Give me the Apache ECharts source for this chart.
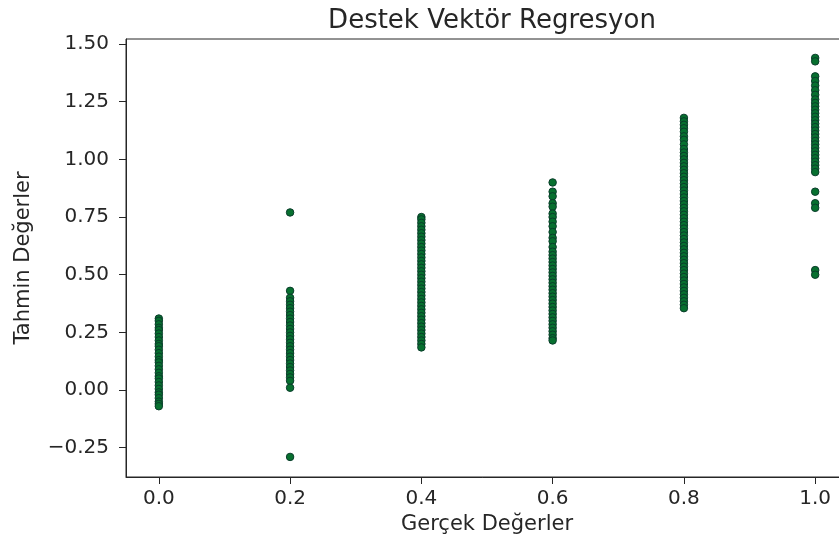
<!DOCTYPE html>
<html>
<head>
<meta charset="utf-8">
<script src="https://cdn.jsdelivr.net/npm/echarts@6/dist/echarts.min.js"></script>
<style>
  html, body { margin: 0; padding: 0; background: #fff; }
  #chart { width: 839px; height: 546px; }
</style>
</head>
<body>
<div id="chart"></div>
<script>
// Target classes on the x axis
const actualValues = [0.0, 0.2, 0.4, 0.6, 0.8, 1.0];

// Predicted values for each actual class
const predAt00 = [0.31, 0.30, 0.285, 0.27, 0.26, 0.245, 0.23, 0.215, 0.20, 0.19, 0.175, 0.16, 0.145, 0.13, 0.12,
  0.105, 0.09, 0.075, 0.06, 0.05, 0.035, 0.02, 0.005, -0.01, -0.02, -0.035, -0.05, -0.06, -0.07];
const predAt02 = [0.77, 0.43, 0.40, 0.385, 0.37, 0.355, 0.34, 0.325, 0.31, 0.295, 0.28, 0.265, 0.25, 0.235, 0.22,
  0.205, 0.19, 0.175, 0.16, 0.145, 0.13, 0.115, 0.10, 0.085, 0.07, 0.055, 0.04, 0.01, -0.29];
const predAt04 = [0.75, 0.74, 0.725, 0.71, 0.695, 0.68, 0.665, 0.65, 0.635, 0.62, 0.605, 0.59, 0.575, 0.56, 0.545,
  0.53, 0.515, 0.50, 0.485, 0.47, 0.455, 0.44, 0.425, 0.41, 0.395, 0.38, 0.365, 0.35, 0.335, 0.32, 0.305, 0.29,
  0.275, 0.26, 0.245, 0.23, 0.215, 0.20, 0.185];
const predAt06 = [0.90, 0.86, 0.84, 0.81, 0.795, 0.765, 0.75, 0.73, 0.71, 0.685, 0.66, 0.645, 0.62, 0.60, 0.585,
  0.57, 0.555, 0.54, 0.525, 0.51, 0.495, 0.48, 0.465, 0.45, 0.435, 0.42, 0.405, 0.39, 0.375, 0.36, 0.345, 0.33,
  0.315, 0.30, 0.285, 0.27, 0.255, 0.24, 0.225, 0.215];
const predAt08 = [1.18, 1.165, 1.15, 1.135, 1.12, 1.10, 1.085, 1.065, 1.045, 1.03, 1.015, 1.0, 0.985, 0.97, 0.955,
  0.94, 0.925, 0.91, 0.895, 0.88, 0.865, 0.85, 0.835, 0.82, 0.805, 0.79, 0.775, 0.76, 0.745, 0.73, 0.715, 0.70,
  0.685, 0.67, 0.655, 0.64, 0.625, 0.61, 0.595, 0.58, 0.565, 0.55, 0.535, 0.52, 0.505, 0.49, 0.475, 0.46, 0.445,
  0.43, 0.415, 0.40, 0.385, 0.37, 0.355];
const predAt10 = [1.44, 1.425, 1.36, 1.34, 1.32, 1.30, 1.28, 1.26, 1.245, 1.23, 1.215, 1.20, 1.185, 1.17, 1.155,
  1.14, 1.125, 1.11, 1.095, 1.08, 1.065, 1.05, 1.035, 1.02, 1.005, 0.99, 0.975, 0.96, 0.945, 0.86, 0.81, 0.79,
  0.52, 0.50];

const predictedByClass = [predAt00, predAt02, predAt04, predAt06, predAt08, predAt10];

// Axis tick positions
const xTicks = [0.0, 0.2, 0.4, 0.6, 0.8, 1.0];
const yTicks = [-0.25, 0.0, 0.25, 0.50, 0.75, 1.00, 1.25, 1.50];

const points = [];
actualValues.forEach((x, i) => {
  predictedByClass[i].forEach(y => points.push([x, y]));
});

const fontFamily = 'DejaVu Sans';
const ink = '#262626';
const minus = s => s.replace('-', '\u2212');

const chart = echarts.init(document.getElementById('chart'), null, { renderer: 'canvas' });
chart.setOption({
  animation: false,
  backgroundColor: '#ffffff',
  title: {
    text: 'Destek Vektör Regresyon',
    left: 487,
    top: 3,
    textAlign: 'center',
    textStyle: { fontFamily, fontSize: 26, fontWeight: 'normal', color: ink }
  },
  // the frame runs a little past the right edge of the page
  grid: {
    left: 126, width: 722, top: 39, bottom: 69,
    containLabel: false,
    outerBoundsMode: 'none',
    show: true, borderColor: ink, borderWidth: 1, backgroundColor: 'transparent'
  },
  xAxis: {
    type: 'value',
    min: -0.05,
    max: 1.05,
    name: 'Gerçek Değerler',
    nameLocation: 'middle',
    nameGap: 37,
    nameTextStyle: { fontFamily, fontSize: 21, color: ink },
    axisLine: { show: true, onZero: false, lineStyle: { color: ink, width: 1 } },
    axisTick: { show: true, length: 7, inside: false, customValues: xTicks, lineStyle: { color: ink } },
    axisLabel: {
      customValues: xTicks, margin: 12, fontFamily, fontSize: 20, color: ink,
      formatter: v => minus(Number(v).toFixed(1))
    },
    splitLine: { show: false }
  },
  yAxis: {
    type: 'value',
    min: -0.377,
    max: 1.522,
    name: 'Tahmin Değerler',
    nameLocation: 'middle',
    nameGap: 92,
    nameRotate: 90,
    nameTextStyle: { fontFamily, fontSize: 21, color: ink },
    axisLine: { show: true, onZero: false, lineStyle: { color: ink, width: 1 } },
    axisTick: { show: true, length: 7, inside: false, customValues: yTicks, lineStyle: { color: ink } },
    axisLabel: {
      customValues: yTicks, margin: 17, fontFamily, fontSize: 20, color: ink,
      formatter: v => minus(Number(v).toFixed(2))
    },
    splitLine: { show: false }
  },
  series: [{
    type: 'scatter',
    data: points,
    symbol: 'circle',
    symbolSize: 7.5,
    itemStyle: { color: '#07702f', borderColor: '#0a3d2b', borderWidth: 1, opacity: 1 }
  }]
});
</script>
</body>
</html>
